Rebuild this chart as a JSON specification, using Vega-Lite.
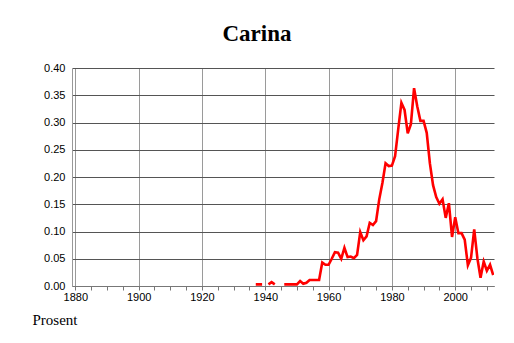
{
  "$schema": "https://vega.github.io/schema/vega-lite/v6.json",
  "width": 422,
  "height": 218,
  "autosize": "none",
  "padding": {"left": 72, "top": 68, "right": 20, "bottom": 57},
  "background": "white",
  "title": {"text": "Carina", "font": "Liberation Serif", "fontSize": 23, "fontWeight": "bold", "color": "black", "baseline": "alphabetic", "offset": 27, "dx": -26, "dy": 29, "anchor": "middle"},
  "config": {"view": {"stroke": null}},
  "data": {"values": [
    {"year": 1937, "value": 0.003}, {"year": 1938, "value": 0.003}, {"year": 1939, "value": 0.003},
    {"year": 1940, "value": null},
    {"year": 1941, "value": 0.003}, {"year": 1942, "value": 0.007}, {"year": 1943, "value": 0.003},
    {"year": 1944, "value": null}, {"year": 1945, "value": null},
    {"year": 1946, "value": 0.003}, {"year": 1947, "value": 0.003}, {"year": 1948, "value": 0.003}, {"year": 1949, "value": 0.003}, {"year": 1950, "value": 0.003},
    {"year": 1951, "value": 0.009}, {"year": 1952, "value": 0.004}, {"year": 1953, "value": 0.006}, {"year": 1954, "value": 0.011},
    {"year": 1955, "value": 0.011}, {"year": 1956, "value": 0.011}, {"year": 1957, "value": 0.011}, {"year": 1958, "value": 0.043},
    {"year": 1959, "value": 0.039}, {"year": 1960, "value": 0.039}, {"year": 1961, "value": 0.05}, {"year": 1962, "value": 0.062},
    {"year": 1963, "value": 0.061}, {"year": 1964, "value": 0.05}, {"year": 1965, "value": 0.07}, {"year": 1966, "value": 0.053},
    {"year": 1967, "value": 0.054}, {"year": 1968, "value": 0.051}, {"year": 1969, "value": 0.057}, {"year": 1970, "value": 0.099},
    {"year": 1971, "value": 0.084}, {"year": 1972, "value": 0.091}, {"year": 1973, "value": 0.116}, {"year": 1974, "value": 0.112},
    {"year": 1975, "value": 0.119}, {"year": 1976, "value": 0.159}, {"year": 1977, "value": 0.189}, {"year": 1978, "value": 0.225},
    {"year": 1979, "value": 0.22}, {"year": 1980, "value": 0.221}, {"year": 1981, "value": 0.238}, {"year": 1982, "value": 0.288},
    {"year": 1983, "value": 0.336}, {"year": 1984, "value": 0.323}, {"year": 1985, "value": 0.28}, {"year": 1986, "value": 0.297},
    {"year": 1987, "value": 0.363}, {"year": 1988, "value": 0.33}, {"year": 1989, "value": 0.303}, {"year": 1990, "value": 0.303},
    {"year": 1991, "value": 0.281}, {"year": 1992, "value": 0.225}, {"year": 1993, "value": 0.185}, {"year": 1994, "value": 0.163},
    {"year": 1995, "value": 0.151}, {"year": 1996, "value": 0.159}, {"year": 1997, "value": 0.125}, {"year": 1998, "value": 0.152},
    {"year": 1999, "value": 0.09}, {"year": 2000, "value": 0.126}, {"year": 2001, "value": 0.097}, {"year": 2002, "value": 0.097},
    {"year": 2003, "value": 0.085}, {"year": 2004, "value": 0.038}, {"year": 2005, "value": 0.052}, {"year": 2006, "value": 0.104},
    {"year": 2007, "value": 0.051}, {"year": 2008, "value": 0.015}, {"year": 2009, "value": 0.045}, {"year": 2010, "value": 0.028},
    {"year": 2011, "value": 0.039}, {"year": 2012, "value": 0.02}
  ]},
  "mark": {"type": "line", "color": "#ff0000", "strokeWidth": 2.6, "invalid": "break-paths-show-domains", "clip": true},
  "encoding": {
    "x": {"field": "year", "type": "quantitative",
      "scale": {"domain": [1878.95, 2012.25], "nice": false, "zero": false},
      "axis": {
        "values": [1880,1885,1890,1895,1900,1905,1910,1915,1920,1925,1930,1935,1940,1945,1950,1955,1960,1965,1970,1975,1980,1985,1990,1995,2000,2005,2010],
        "labelExpr": "datum.value % 20 == 0 ? datum.value : ''",
        "labelFont": "Liberation Sans", "labelFontSize": 11, "labelColor": "black", "labelPadding": 1, "labelFlush": false,
        "tickSize": 4, "tickColor": "#777",
        "domainColor": "#777",
        "grid": true,
        "gridColor": {"condition": {"test": "datum.value % 20 == 0", "value": "#9a9a9a"}, "value": "transparent"},
        "title": "Prosent", "titleFont": "Liberation Serif", "titleFontSize": 15, "titleFontWeight": "normal", "titleColor": "black",
        "titleAnchor": "start", "titleAlign": "left", "titleX": -40, "titleY": 38, "titleBaseline": "alphabetic"
      }
    },
    "y": {"field": "value", "type": "quantitative",
      "scale": {"domain": [0, 0.4], "nice": false},
      "axis": {
        "values": [0, 0.05, 0.1, 0.15, 0.2, 0.25, 0.3, 0.35, 0.4],
        "format": ".2f",
        "labelFont": "Liberation Sans", "labelFontSize": 11, "labelColor": "black", "labelPadding": 7,
        "ticks": false, "domainColor": "#999",
        "gridColor": "#555", "title": null
      }
    }
  }
}
